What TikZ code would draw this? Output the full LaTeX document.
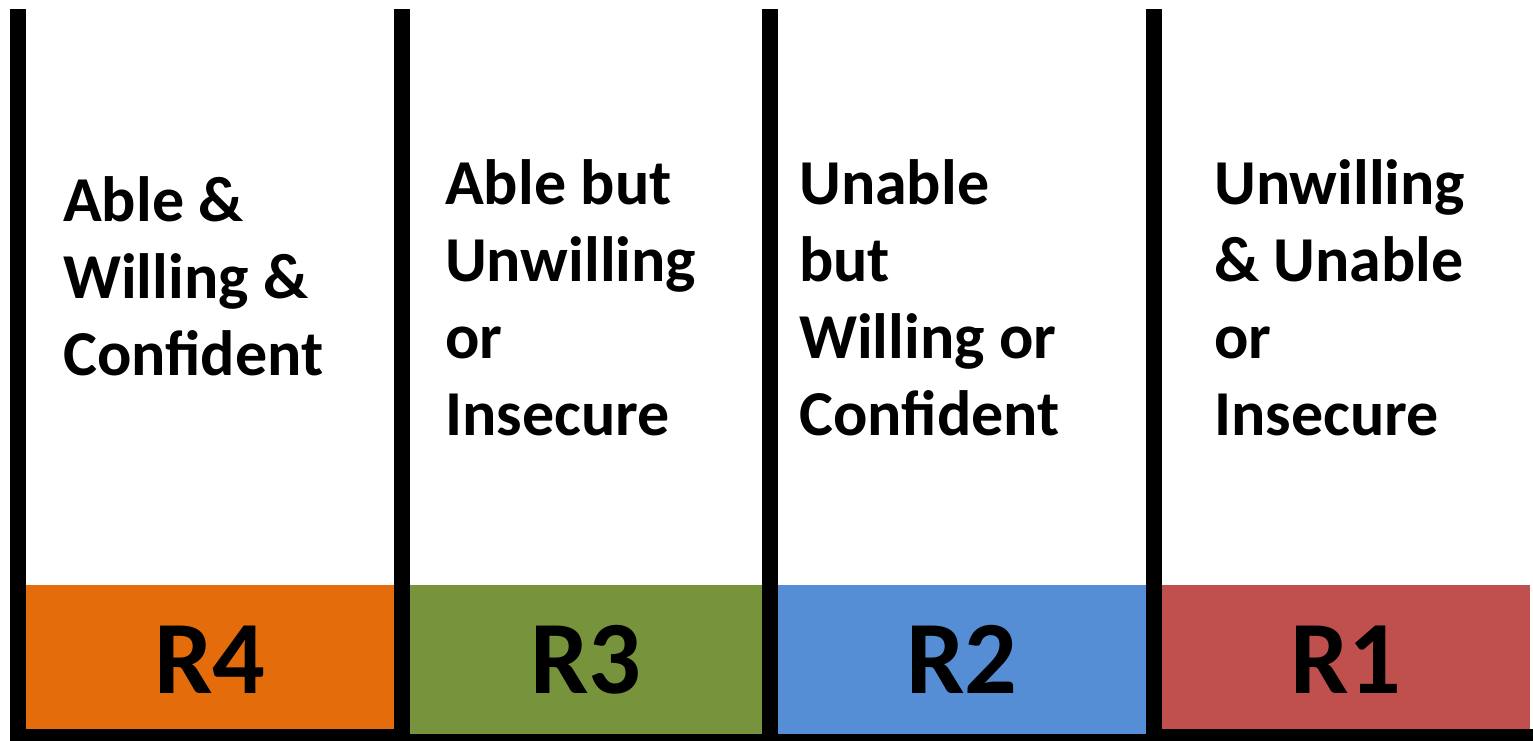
\documentclass[tikz,border=0pt]{standalone}
\usepackage{fontspec}
\setmainfont{Carlito}
\definecolor{rfour}{HTML}{E46C0A}
\definecolor{rthree}{HTML}{77933C}
\definecolor{rtwo}{HTML}{558ED5}
\definecolor{rone}{HTML}{C0504D}
\begin{document}
\begin{tikzpicture}[x=1pt,y=-1pt,
  desc/.style={anchor=base west, inner sep=0, align=left, font=\bfseries\fontsize{64}{76.7}\selectfont},
  lvl/.style={anchor=base, inner sep=0, font=\bfseries\fontsize{104}{104}\selectfont}]
\useasboundingbox (0,0) rectangle (1533,741);
\fill (10,729) rectangle (1533,741);
\fill[rfour] (26,585) rectangle (394,729);
\fill[rthree] (410,585) rectangle (762,734);
\fill[rtwo] (778,585) rectangle (1146,734);
\fill[rone] (1162,585) rectangle (1530,729);
\fill (10,9) rectangle (26,741);
\fill (394,9) rectangle (410,741);
\fill (762,9) rectangle (778,741);
\fill (1146,9) rectangle (1162,741);
\node[desc] (rfourtxt) at (63,375) {Able \&\\Willing \&\\Confident};
\node[desc] (rthreetxt) at (445,435) {Able but\\Unwilling\\or\\Insecure};
\node[desc] (rtwotxt) at (799,435) {Unable\\but\\Willing or\\Confident};
\node[desc] (ronetxt) at (1214,435) {Unwilling\\\& Unable\\or\\Insecure};
\node[lvl] (rfourlbl) at (210,693) {R4};
\node[lvl] (rthreelbl) at (586,693) {R3};
\node[lvl] (rtwolbl) at (962,693) {R2};
\node[lvl] (ronelbl) at (1346,693) {R1};
\end{tikzpicture}
\end{document}
